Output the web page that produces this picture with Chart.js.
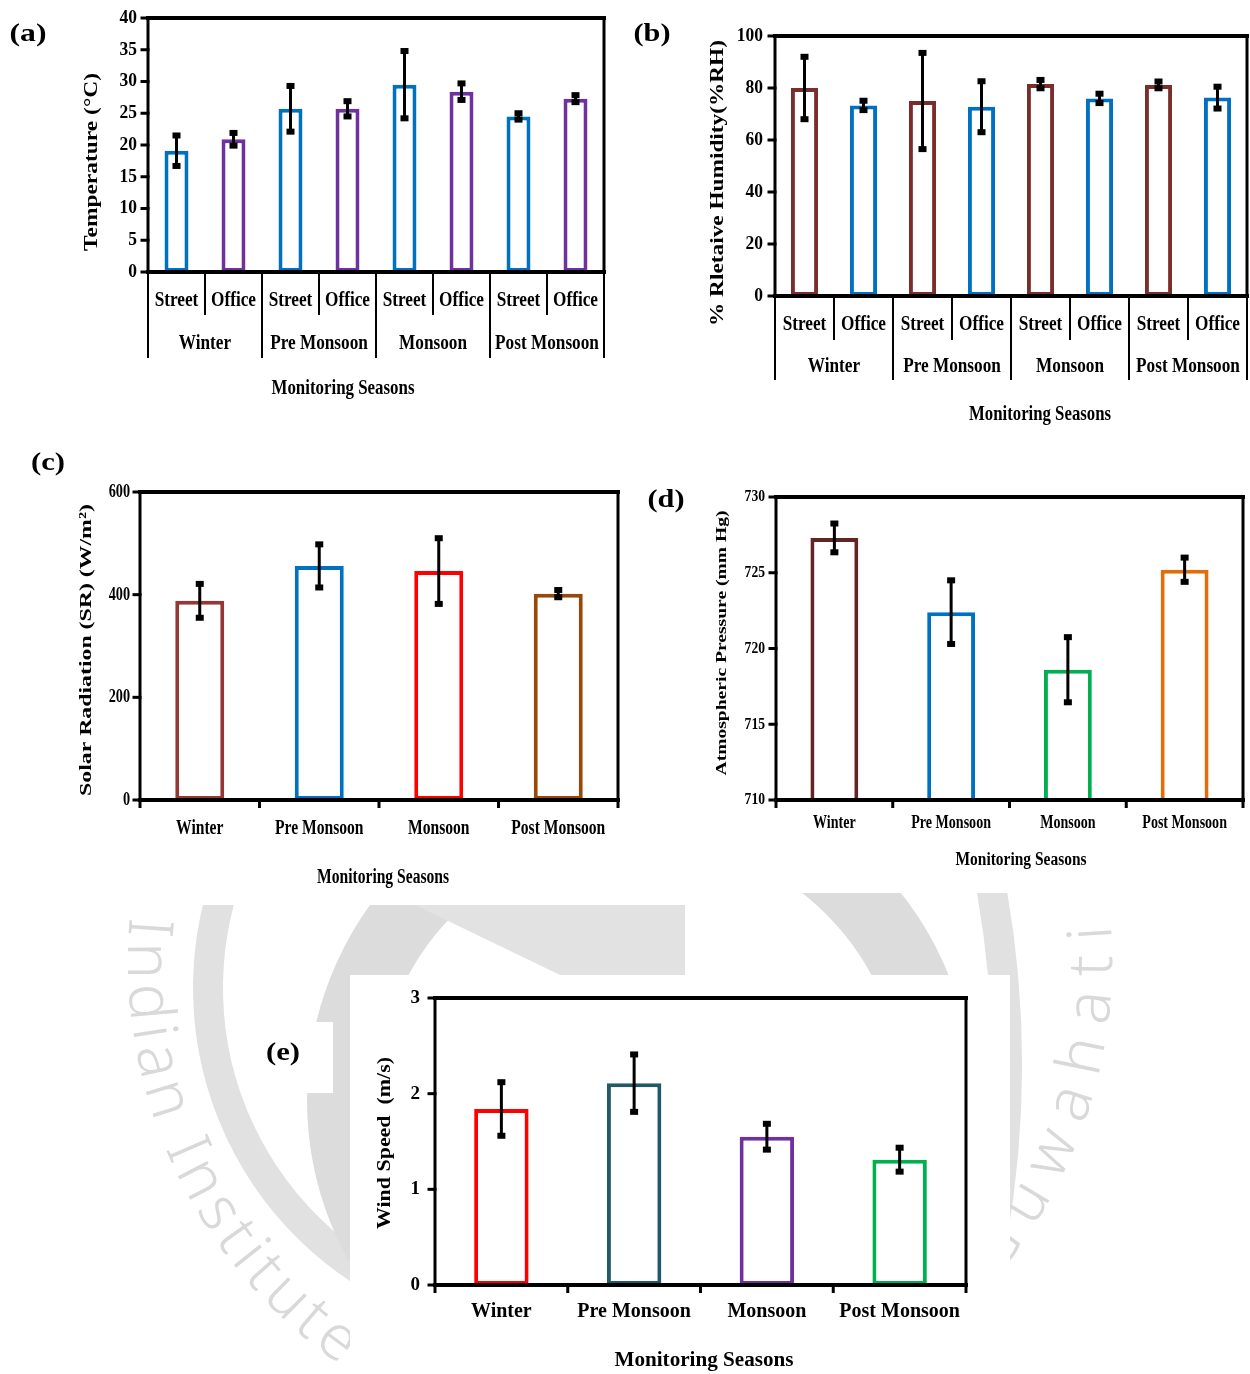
<!DOCTYPE html>
<html>
<head>
<meta charset="utf-8">
<script src="https://cdn.jsdelivr.net/npm/chart.js@4.4.0/dist/chart.umd.min.js"></script>
<style>
  body { margin: 0; background: #fff; }
  #page { position: relative; width: 1250px; height: 1374px; overflow: hidden; }
  canvas { position: absolute; }
</style>
</head>
<body>
<div id="page">
  <canvas id="bg" width="1250" height="1374" style="left:0;top:0"></canvas>
  <canvas id="chartA" width="620" height="410" style="left:0;top:0"></canvas>
  <canvas id="chartB" width="630" height="440" style="left:620px;top:0"></canvas>
  <canvas id="chartC" width="690" height="465" style="left:0;top:440px"></canvas>
  <canvas id="chartD" width="630" height="423" style="left:620px;top:470px"></canvas>
  <canvas id="chartE" width="660" height="399" style="left:350px;top:975px"></canvas>
</div>
<script>
// ---- data ----
var seasons = ['Winter', 'Pre Monsoon', 'Monsoon', 'Post Monsoon'];
var siteLabels = ['Street', 'Office', 'Street', 'Office', 'Street', 'Office', 'Street', 'Office'];

// (a) temperature, street/office per season
var tempMean = [19.1, 20.9, 25.7, 25.7, 29.5, 28.4, 24.5, 27.3];
var tempErr  = [2.4, 1.0, 3.6, 1.2, 5.3, 1.3, 0.5, 0.55];

// (b) relative humidity
var rhMean = [80, 73.3, 75, 72.8, 81.5, 76, 81.2, 76.3];
var rhErr  = [12, 1.8, 18.5, 9.8, 1.6, 1.8, 1.3, 4.2];

// (c) solar radiation
var srMean = [388, 456, 446, 402];
var srErr  = [33, 42, 64, 7];

// (d) atmospheric pressure
var apMean = [727.3, 722.4, 718.6, 725.2];
var apErr  = [0.95, 2.1, 2.15, 0.8];

// (e) wind speed
var wsMean = [1.84, 2.11, 1.55, 1.31];
var wsErr  = [0.28, 0.30, 0.135, 0.125];

var SERIF = '"Liberation Serif", "Times New Roman", serif';

// draw bold serif text, squeezed horizontally to a given width (or factor)
function fitText(ctx, txt, x, y, o) {
  ctx.save();
  ctx.font = 'bold ' + o.size + 'px ' + SERIF;
  ctx.fillStyle = '#000';
  ctx.textBaseline = 'middle';
  ctx.textAlign = 'center';
  var w = ctx.measureText(txt).width;
  var sx = o.width ? o.width / w : (o.sx || 1);
  ctx.translate(x, y);
  if (o.rot) ctx.rotate(o.rot);
  ctx.scale(sx, 1);
  var off = o.align === 'right' ? -w / 2 : (o.align === 'left' ? w / 2 : 0);
  ctx.fillText(txt, off, 0);
  ctx.restore();
}

// axes frame, ticks, labels and error bars for one panel
function decorPlugin(p) {
  return {
    id: 'decor',
    afterDatasetsDraw: function (chart) {
      var ctx = chart.ctx, y = chart.scales.y;
      var meta = chart.getDatasetMeta(0);
      ctx.save();
      ctx.fillStyle = '#000';
      ctx.strokeStyle = '#000';
      meta.data.forEach(function (bar, i) {
        var hi = y.getPixelForValue(p.means[i] + p.errs[i]);
        var lo = y.getPixelForValue(p.means[i] - p.errs[i]);
        ctx.lineWidth = 3;
        ctx.beginPath(); ctx.moveTo(bar.x, hi); ctx.lineTo(bar.x, lo); ctx.stroke();
        ctx.fillRect(bar.x - 4, hi - 3, 8, 6);
        ctx.fillRect(bar.x - 4, lo - 3, 8, 6);
      });
      ctx.restore();
    },
    afterDraw: function (chart) {
      var ctx = chart.ctx, a = chart.chartArea;
      var xs = chart.scales.x, ys = chart.scales.y;
      var ox = p.ox, oy = p.oy;
      ctx.save();
      ctx.strokeStyle = '#000';
      ctx.lineCap = 'square';
      // frame
      ctx.lineWidth = 4;
      ctx.beginPath(); ctx.moveTo(a.left, a.top); ctx.lineTo(a.right, a.top); ctx.stroke();
      ctx.beginPath(); ctx.moveTo(a.left, a.bottom); ctx.lineTo(a.right, a.bottom); ctx.stroke();
      ctx.lineWidth = 3;
      ctx.beginPath(); ctx.moveTo(a.left, a.top); ctx.lineTo(a.left, a.bottom); ctx.stroke();
      ctx.beginPath(); ctx.moveTo(a.right, a.top); ctx.lineTo(a.right, a.bottom); ctx.stroke();

      // y ticks and labels
      for (var v = p.yMin; v <= p.yMax + 1e-9; v += p.yStep) {
        var py = ys.getPixelForValue(v);
        ctx.lineWidth = 3;
        ctx.beginPath(); ctx.moveTo(a.left - 6, py); ctx.lineTo(a.left, py); ctx.stroke();
        fitText(ctx, String(v), p.yTicks.x - ox, py, { size: p.yTicks.size, sx: p.yTicks.sx, align: 'right' });
      }

      var n = chart.data.labels.length;
      var half = (xs.getPixelForValue(1) - xs.getPixelForValue(0)) / 2;

      if (p.groups) {
        // two-level category axis: site row then season row
        chart.data.labels.forEach(function (lab, i) {
          fitText(ctx, lab, xs.getPixelForValue(i), p.groups.subY - oy, { size: p.groups.size, sx: p.groups.sx });
        });
        p.groups.names.forEach(function (g, k) {
          var cx = (xs.getPixelForValue(2 * k) + xs.getPixelForValue(2 * k + 1)) / 2;
          fitText(ctx, g, cx, p.groups.grpY - oy, { size: p.groups.size, sx: p.groups.sx });
        });
        ctx.lineWidth = 2;
        ctx.lineCap = 'butt';
        for (var k = 0; k <= n; k++) {
          var bx = k < n ? xs.getPixelForValue(k) - half : xs.getPixelForValue(n - 1) + half;
          var to = (k % 2 === 0 ? p.groups.longTo : p.groups.shortTo) - oy;
          ctx.beginPath(); ctx.moveTo(bx, a.bottom); ctx.lineTo(bx, to); ctx.stroke();
        }
      } else {
        ctx.lineWidth = 3;
        ctx.lineCap = 'butt';
        for (var j = 0; j <= n; j++) {
          var tx = j < n ? xs.getPixelForValue(j) - half : xs.getPixelForValue(n - 1) + half;
          ctx.beginPath(); ctx.moveTo(tx, a.bottom); ctx.lineTo(tx, a.bottom + 8); ctx.stroke();
        }
        chart.data.labels.forEach(function (lab, i) {
          fitText(ctx, lab, xs.getPixelForValue(i), p.xLabels.y - oy, { size: p.xLabels.size, sx: p.xLabels.sx });
        });
      }

      fitText(ctx, p.xTitle.text, p.xTitle.x - ox, p.xTitle.y - oy, { size: p.xTitle.size, width: p.xTitle.width });
      fitText(ctx, p.yTitle.text, p.yTitle.x - ox, p.yTitle.y - oy, { size: p.yTitle.size, width: p.yTitle.len, rot: -Math.PI / 2 });
      if (p.tag) fitText(ctx, p.tag.text, p.tag.x - ox, p.tag.y - oy, { size: p.tag.size, width: p.tag.width });
      ctx.restore();
    }
  };
}

function makePanel(id, p) {
  var cv = document.getElementById(id);
  return new Chart(cv, {
    type: 'bar',
    data: {
      labels: p.labels,
      datasets: [{
        data: p.means,
        backgroundColor: '#ffffff',
        borderColor: p.colors,
        borderWidth: 4,
        borderSkipped: false,
        barPercentage: p.barPct,
        categoryPercentage: 1
      }]
    },
    options: {
      responsive: false,
      animation: false,
      devicePixelRatio: 1,
      layout: {
        padding: {
          left: p.plot.l - p.ox,
          top: p.plot.t - p.oy,
          right: p.ox + cv.width - p.plot.r,
          bottom: p.oy + cv.height - p.plot.b
        }
      },
      plugins: { legend: { display: false }, tooltip: { enabled: false } },
      scales: {
        x: { display: false },
        y: { display: false, min: p.yMin, max: p.yMax, ticks: { stepSize: p.yStep } }
      }
    },
    plugins: [decorPlugin(p)]
  });
}

// ---- faint seal watermark and white panel patches ----
function drawBackdrop() {
  var ctx = document.getElementById('bg').getContext('2d');
  var deg = Math.PI / 180;
  ctx.fillStyle = '#fff';
  ctx.fillRect(0, 0, 1250, 1374);

  ctx.strokeStyle = '#e1e1e1';
  ctx.lineWidth = 30;
  ctx.beginPath(); ctx.arc(545, 988, 337, 110 * deg, 260 * deg); ctx.stroke();
  ctx.beginPath(); ctx.arc(0, 1065, 1007, -10 * deg, 10 * deg); ctx.stroke();

  ctx.strokeStyle = '#dcdcdc';
  ctx.lineWidth = 70;
  ctx.beginPath(); ctx.arc(640, 1100, 298, 0, 2 * Math.PI); ctx.stroke();

  ctx.fillStyle = '#e2e2e2';
  ctx.beginPath();
  ctx.moveTo(415, 905); ctx.lineTo(685, 905); ctx.lineTo(685, 975); ctx.lineTo(560, 975);
  ctx.closePath(); ctx.fill();

  // institute name around the seal
  ctx.fillStyle = '#d9d9d9';
  ctx.font = '300 62px "Noto Sans"';
  ctx.textAlign = 'center';
  ctx.textBaseline = 'alphabetic';
  var cx = 620, cy = 960, r = 492;
  function arcText(txt, start, gap) {
    var ang = start;
    for (var i = 0; i < txt.length; i++) {
      var w = ctx.measureText(txt[i]).width;
      ang -= (w / 2) / r;
      ctx.save();
      ctx.translate(cx + r * Math.cos(ang), cy + r * Math.sin(ang));
      ctx.rotate(ang - Math.PI / 2);
      ctx.fillText(txt[i], 0, 0);
      ctx.restore();
      ang -= (w / 2 + gap) / r;
    }
  }
  arcText('Indian Institute of Technology', 185 * deg, 6);
  arcText('Guwahati', 40 * deg, 16);

  // white patches behind the panels
  ctx.fillStyle = '#fff';
  ctx.fillRect(0, 0, 1250, 893);
  ctx.fillRect(0, 893, 685, 12);
  ctx.fillRect(350, 975, 660, 399);
  ctx.fillRect(246, 1022, 87, 71);
  fitText(ctx, '(e)', 283, 1053, { size: 26, width: 34 });
}

drawBackdrop();

makePanel('chartA', {
  ox: 0, oy: 0,
  plot: { l: 148, t: 18, r: 604, b: 272 },
  labels: siteLabels, means: tempMean, errs: tempErr,
  colors: ['#0070C0', '#7030A0', '#0070C0', '#7030A0', '#0070C0', '#7030A0', '#0070C0', '#7030A0'],
  yMin: 0, yMax: 40, yStep: 5, barPct: 0.42,
  tag: { text: '(a)', x: 28, y: 34, size: 26, width: 37 },
  yTicks: { x: 137, size: 19, sx: 0.92 },
  yTitle: { text: 'Temperature (°C)', x: 92, y: 162, size: 18, len: 178 },
  groups: { names: seasons, subY: 301, grpY: 344, size: 21, sx: 0.82, shortTo: 315, longTo: 358 },
  xTitle: { text: 'Monitoring Seasons', x: 343, y: 389, size: 21, width: 143 }
});

makePanel('chartB', {
  ox: 620, oy: 0,
  plot: { l: 775, t: 36, r: 1247, b: 296 },
  labels: siteLabels, means: rhMean, errs: rhErr,
  colors: ['#7A2E2C', '#0070C0', '#7A2E2C', '#0070C0', '#7A2E2C', '#0070C0', '#7A2E2C', '#0070C0'],
  yMin: 0, yMax: 100, yStep: 20, barPct: 0.46,
  tag: { text: '(b)', x: 652, y: 34, size: 26, width: 37 },
  yTicks: { x: 763, size: 19, sx: 0.92 },
  yTitle: { text: '% Rletaive Humidity(%RH)', x: 718, y: 183, size: 18, len: 286 },
  groups: { names: seasons, subY: 325, grpY: 367, size: 21, sx: 0.82, shortTo: 340, longTo: 380 },
  xTitle: { text: 'Monitoring Seasons', x: 1040, y: 415, size: 21, width: 142 }
});

makePanel('chartC', {
  ox: 0, oy: 440,
  plot: { l: 140, t: 492, r: 618, b: 800 },
  labels: seasons, means: srMean, errs: srErr,
  colors: ['#953735', '#0070C0', '#FF0000', '#984807'],
  yMin: 0, yMax: 600, yStep: 200, barPct: 0.41,
  tag: { text: '(c)', x: 48, y: 463, size: 26, width: 34 },
  yTicks: { x: 130, size: 19, sx: 0.75 },
  yTitle: { text: 'Solar Radiation (SR) (W/m²)', x: 87, y: 650, size: 17, len: 292 },
  xLabels: { y: 829, size: 20, sx: 0.78 },
  xTitle: { text: 'Monitoring Seasons', x: 383, y: 878, size: 20, width: 132 }
});

makePanel('chartD', {
  ox: 620, oy: 470,
  plot: { l: 776, t: 497, r: 1243, b: 800 },
  labels: seasons, means: apMean, errs: apErr,
  colors: ['#632523', '#0070C0', '#00B050', '#E46C0A'],
  yMin: 710, yMax: 730, yStep: 5, barPct: 0.41,
  tag: { text: '(d)', x: 666, y: 500, size: 26, width: 37 },
  yTicks: { x: 765, size: 17, sx: 0.8 },
  yTitle: { text: 'Atmospheric Pressure (mm Hg)', x: 722, y: 643, size: 15, len: 265 },
  xLabels: { y: 823, size: 18, sx: 0.78 },
  xTitle: { text: 'Monitoring Seasons', x: 1021, y: 860, size: 18, width: 131 }
});

makePanel('chartE', {
  ox: 350, oy: 975,
  plot: { l: 435, t: 998, r: 966, b: 1285 },
  labels: seasons, means: wsMean, errs: wsErr,
  colors: ['#FF0000', '#215968', '#7030A0', '#00B050'],
  yMin: 0, yMax: 3, yStep: 1, barPct: 0.41,
  yTicks: { x: 420, size: 19, sx: 1 },
  yTitle: { text: 'Wind Speed  (m/s)', x: 385, y: 1143, size: 19, len: 172 },
  xLabels: { y: 1312, size: 20, sx: 1 },
  xTitle: { text: 'Monitoring Seasons', x: 704, y: 1361, size: 20, width: 179 }
});
</script>
</body>
</html>
